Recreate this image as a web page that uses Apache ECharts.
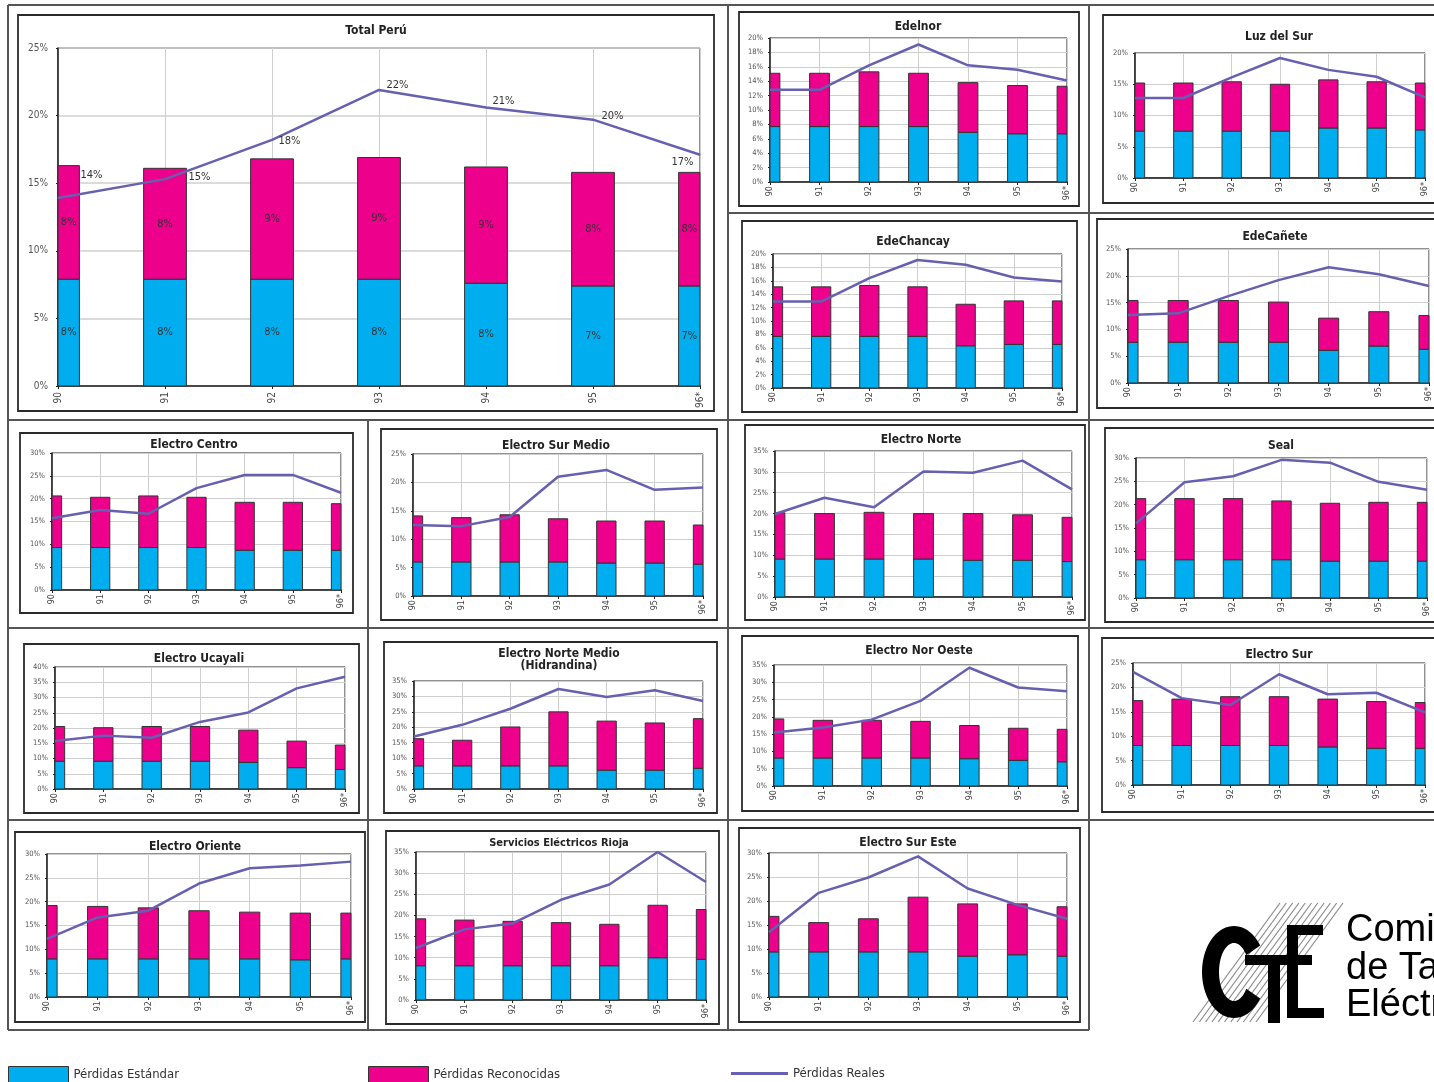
<!DOCTYPE html>
<html>
<head>
<meta charset="utf-8">
<script src="https://cdn.jsdelivr.net/npm/echarts@6/dist/echarts.min.js"></script>
<style>
html,body{margin:0;padding:0;background:#fff;overflow:hidden}
#c{width:1434px;height:1082px}
</style>
</head>
<body>
<div id="c"></div>
<script>
// ---------------- DATA ----------------
const years = ['90', '91', '92', '93', '94', '95', '96*'];
const seriesNames = ['Pérdidas Estándar', 'Pérdidas Reconocidas', 'Pérdidas Reales'];

const totalPeruEstandar    = [7.9, 7.9, 7.9, 7.9, 7.6, 7.4, 7.4];
const totalPeruReconocidas = [8.4, 8.2, 8.9, 9.0, 8.6, 8.4, 8.4];
const totalPeruReales      = [13.9, 15.3, 18.2, 21.9, 20.6, 19.7, 17.1];

const edelnorEstandar    = [7.7, 7.7, 7.7, 7.7, 6.9, 6.7, 6.7];
const edelnorReconocidas = [7.4, 7.4, 7.6, 7.4, 6.9, 6.7, 6.6];
const edelnorReales      = [12.8, 12.8, 16.2, 19.1, 16.2, 15.6, 14.1];

const luzDelSurEstandar    = [7.5, 7.5, 7.5, 7.5, 8.0, 8.0, 7.7];
const luzDelSurReconocidas = [7.7, 7.7, 7.9, 7.5, 7.7, 7.4, 7.5];
const luzDelSurReales      = [12.8, 12.8, 16.1, 19.2, 17.3, 16.2, 12.9];

const edeChancayEstandar    = [7.7, 7.7, 7.7, 7.7, 6.3, 6.5, 6.5];
const edeChancayReconocidas = [7.4, 7.4, 7.6, 7.4, 6.2, 6.5, 6.5];
const edeChancayReales      = [12.9, 12.9, 16.4, 19.1, 18.4, 16.5, 15.9];

const edeCaneteEstandar    = [7.6, 7.6, 7.6, 7.6, 6.1, 6.9, 6.3];
const edeCaneteReconocidas = [7.8, 7.8, 7.8, 7.5, 6.0, 6.4, 6.3];
const edeCaneteReales      = [12.7, 13.0, 16.2, 19.2, 21.6, 20.3, 18.1];

const electroCentroEstandar    = [9.3, 9.3, 9.3, 9.3, 8.7, 8.7, 8.7];
const electroCentroReconocidas = [11.3, 11.0, 11.3, 11.0, 10.5, 10.5, 10.2];
const electroCentroReales      = [15.7, 17.5, 16.7, 22.3, 25.2, 25.2, 21.3];

const electroSurMedioEstandar    = [6.0, 6.0, 6.0, 6.0, 5.8, 5.8, 5.6];
const electroSurMedioReconocidas = [8.1, 7.8, 8.3, 7.6, 7.4, 7.4, 6.9];
const electroSurMedioReales      = [12.5, 12.3, 13.9, 21.0, 22.2, 18.7, 19.1];

const electroNorteEstandar    = [9.1, 9.1, 9.1, 9.1, 8.8, 8.8, 8.5];
const electroNorteReconocidas = [11.1, 10.9, 11.2, 10.9, 11.2, 10.9, 10.6];
const electroNorteReales      = [19.9, 23.8, 21.5, 30.1, 29.8, 32.7, 25.8];

const sealEstandar    = [8.2, 8.2, 8.2, 8.2, 7.9, 7.9, 7.9];
const sealReconocidas = [13.1, 13.1, 13.1, 12.6, 12.4, 12.6, 12.6];
const sealReales      = [16.0, 24.8, 26.1, 29.6, 29.0, 24.9, 23.2];

const electroUcayaliEstandar    = [9.1, 9.1, 9.1, 9.1, 8.7, 7.0, 6.4];
const electroUcayaliReconocidas = [11.4, 11.0, 11.4, 11.4, 10.6, 8.7, 8.0];
const electroUcayaliReales      = [15.7, 17.5, 16.8, 22.0, 25.1, 33.0, 36.8];

const electroNorteMedioEstandar    = [7.5, 7.5, 7.5, 7.5, 6.1, 6.1, 6.7];
const electroNorteMedioReconocidas = [8.8, 8.3, 12.6, 17.5, 15.9, 15.3, 16.1];
const electroNorteMedioReales      = [17.0, 20.8, 26.0, 32.4, 29.8, 32.0, 28.5];

const electroNorOesteEstandar    = [8.1, 8.1, 8.1, 8.1, 7.9, 7.4, 7.0];
const electroNorOesteReconocidas = [11.3, 10.9, 10.9, 10.6, 9.6, 9.3, 9.4];
const electroNorOesteReales      = [15.5, 16.9, 19.2, 24.6, 34.2, 28.5, 27.4];

const electroSurEstandar    = [8.1, 8.1, 8.1, 8.1, 7.8, 7.5, 7.5];
const electroSurReconocidas = [9.2, 9.5, 10.0, 10.0, 9.8, 9.6, 9.4];
const electroSurReales      = [23.2, 17.8, 16.4, 22.7, 18.6, 18.9, 14.9];

const electroOrienteEstandar    = [8.0, 8.0, 8.0, 8.0, 8.0, 7.8, 8.0];
const electroOrienteReconocidas = [11.2, 11.0, 10.7, 10.1, 9.8, 9.8, 9.6];
const electroOrienteReales      = [12.2, 16.7, 18.1, 23.8, 27.0, 27.6, 28.4];

const riojaEstandar    = [8.1, 8.1, 8.1, 8.1, 8.1, 10.0, 9.6];
const riojaReconocidas = [11.1, 10.8, 10.5, 10.2, 9.8, 12.4, 11.8];
const riojaReales      = [12.3, 16.7, 18.1, 23.7, 27.3, 35.0, 27.9];

const electroSurEsteEstandar    = [9.4, 9.4, 9.4, 9.4, 8.5, 8.8, 8.5];
const electroSurEsteReconocidas = [7.4, 6.1, 6.9, 11.4, 10.9, 10.6, 10.3];
const electroSurEsteReales      = [13.5, 21.7, 24.9, 29.3, 22.6, 19.2, 16.3];

// ---------------- LAYOUT ----------------
// plot: [left, top, right, bottom]; box: [x1, y1, x2, y2]
const panels = [
  {title: 'Total Perú', est: totalPeruEstandar, rec: totalPeruReconocidas, real: totalPeruReales, max: 25, step: 5,
   plot: [58, 48, 700, 386], box: [18, 15, 714, 411], tx: 376, ty: 29, big: true},
  {title: 'Edelnor', est: edelnorEstandar, rec: edelnorReconocidas, real: edelnorReales, max: 20, step: 2,
   plot: [770, 38, 1067, 182], box: [739, 12, 1079, 206], tx: 918, ty: 25},
  {title: 'Luz del Sur', est: luzDelSurEstandar, rec: luzDelSurReconocidas, real: luzDelSurReales, max: 20, step: 5,
   plot: [1135, 53, 1425, 178], box: [1103, 15, 1444, 203], tx: 1279, ty: 35},
  {title: 'EdeChancay', est: edeChancayEstandar, rec: edeChancayReconocidas, real: edeChancayReales, max: 20, step: 2,
   plot: [773, 254, 1062, 388], box: [742, 221, 1077, 412], tx: 913, ty: 240},
  {title: 'EdeCañete', est: edeCaneteEstandar, rec: edeCaneteReconocidas, real: edeCaneteReales, max: 25, step: 5,
   plot: [1128, 249, 1429, 383], box: [1097, 219, 1444, 408], tx: 1275, ty: 235},
  {title: 'Electro Centro', est: electroCentroEstandar, rec: electroCentroReconocidas, real: electroCentroReales, max: 30, step: 5,
   plot: [52, 453, 341, 590], box: [20, 433, 353, 613], tx: 194, ty: 443},
  {title: 'Electro Sur Medio', est: electroSurMedioEstandar, rec: electroSurMedioReconocidas, real: electroSurMedioReales, max: 25, step: 5,
   plot: [413, 454, 703, 596], box: [381, 429, 717, 620], tx: 556, ty: 444},
  {title: 'Electro Norte', est: electroNorteEstandar, rec: electroNorteReconocidas, real: electroNorteReales, max: 35, step: 5,
   plot: [775, 451, 1072, 597], box: [745, 425, 1085, 620], tx: 921, ty: 438},
  {title: 'Seal', est: sealEstandar, rec: sealReconocidas, real: sealReales, max: 30, step: 5,
   plot: [1136, 458, 1427, 598], box: [1105, 428, 1444, 622], tx: 1281, ty: 444},
  {title: 'Electro Ucayali', est: electroUcayaliEstandar, rec: electroUcayaliReconocidas, real: electroUcayaliReales, max: 40, step: 5,
   plot: [55, 667, 345, 789], box: [24, 644, 359, 813], tx: 199, ty: 657},
  {title: 'Electro Norte Medio\n(Hidrandina)', est: electroNorteMedioEstandar, rec: electroNorteMedioReconocidas, real: electroNorteMedioReales, max: 35, step: 5,
   plot: [414, 681, 703, 789], box: [384, 642, 717, 813], tx: 559, ty: 658},
  {title: 'Electro Nor Oeste', est: electroNorOesteEstandar, rec: electroNorOesteReconocidas, real: electroNorOesteReales, max: 35, step: 5,
   plot: [774, 665, 1067, 786], box: [742, 636, 1078, 811], tx: 919, ty: 649},
  {title: 'Electro Sur', est: electroSurEstandar, rec: electroSurReconocidas, real: electroSurReales, max: 25, step: 5,
   plot: [1133, 663, 1425, 785], box: [1102, 638, 1444, 812], tx: 1279, ty: 653},
  {title: 'Electro Oriente', est: electroOrienteEstandar, rec: electroOrienteReconocidas, real: electroOrienteReales, max: 30, step: 5,
   plot: [47, 854, 351, 997], box: [15, 832, 365, 1022], tx: 195, ty: 845},
  {title: 'Servicios Eléctricos Rioja', est: riojaEstandar, rec: riojaReconocidas, real: riojaReales, max: 35, step: 5,
   plot: [416, 852, 706, 1000], box: [386, 831, 719, 1024], tx: 559, ty: 841, tsize: 11},
  {title: 'Electro Sur Este', est: electroSurEsteEstandar, rec: electroSurEsteReconocidas, real: electroSurEsteReales, max: 30, step: 5,
   plot: [769, 853, 1067, 997], box: [739, 828, 1080, 1022], tx: 908, ty: 841}
];

// label offsets (px) for the "Total Perú" line labels
const totalLabelOffsets = [[34, -22], [35, -2], [18, 2], [19, -4], [18, -6], [20, -3], [-17, 8]];

const FONT = "'Liberation Sans Narrow','DejaVu Sans Condensed','Liberation Sans',Arial,sans-serif";
const BLUE = '#00aeef', PINK = '#ec008c', LINE = '#6760b0', EDGE = '#333333', GRIDC = '#cfcfcf';
const BAR_RATIO = 0.4;

// stacked bar segment drawn through the axes' own scales, cut at the plot edges
function barRenderer(fillColor, withLabel) {
  return function (params, api) {
    const ci = api.value(0), lo = api.value(1), hi = api.value(2), v = api.value(3);
    const pLo = api.coord([ci, lo]), pHi = api.coord([ci, hi]);
    const bw = api.size([1, 0])[0] * BAR_RATIO;
    const cs = params.coordSys;
    const x1 = Math.max(pLo[0] - bw / 2, cs.x);
    const x2 = Math.min(pLo[0] + bw / 2, cs.x + cs.width);
    const el = {
      type: 'rect',
      shape: {x: x1, y: pHi[1], width: x2 - x1, height: pLo[1] - pHi[1]},
      style: {fill: fillColor, stroke: EDGE, lineWidth: 1}
    };
    if (withLabel) {
      el.textContent = {style: {text: Math.round(v) + '%', fill: '#333', font: '11px ' + FONT}};
      el.textConfig = {position: 'inside'};
    }
    return el;
  };
}

const grids = [], xAxes = [], yAxes = [], series = [], titles = [], graphics = [];

panels.forEach((p, i) => {
  const [l, t, r, b] = p.plot;
  grids.push({left: l, top: t, width: r - l, height: b - t, show: true, borderColor: '#222', borderWidth: 1, backgroundColor: 'transparent'});
  xAxes.push({
    type: 'category', gridIndex: i, data: years, boundaryGap: false,
    axisLine: {show: true, onZero: false, lineStyle: {color: '#222', width: 1.5}},
    axisTick: {show: true, length: 3, interval: 0, lineStyle: {color: '#222'}},
    axisLabel: {interval: 0, rotate: 90, fontSize: p.big ? 10 : 9, color: '#444', fontFamily: FONT, margin: p.big ? 6 : 4, hideOverlap: false},
    splitLine: {show: true, interval: 0, lineStyle: {color: GRIDC, width: 1}}
  });
  yAxes.push({
    type: 'value', gridIndex: i, min: 0, max: p.max, interval: p.step,
    axisLine: {show: true, lineStyle: {color: '#222', width: 1.5}},
    axisTick: {show: true, length: 2, lineStyle: {color: '#222'}},
    axisLabel: {formatter: '{value}%', fontSize: p.big ? 10 : 7.5, color: '#555', fontFamily: FONT, margin: p.big ? 10 : 7, showMinLabel: true, showMaxLabel: true},
    splitLine: {show: true, lineStyle: {color: GRIDC, width: p.big ? 1.5 : 1}}
  });
  const estRows = years.map((y, k) => [y, 0, p.est[k], p.est[k]]);
  const recRows = years.map((y, k) => [y, p.est[k], p.est[k] + p.rec[k], p.rec[k]]);
  series.push({
    name: seriesNames[0], type: 'custom', xAxisIndex: i, yAxisIndex: i, data: estRows,
    encode: {x: 0, y: [1, 2]}, renderItem: barRenderer(BLUE, !!p.big), z: 2,
    itemStyle: {color: BLUE, borderColor: EDGE, borderWidth: 1}, emphasis: {disabled: true}
  });
  series.push({
    name: seriesNames[1], type: 'custom', xAxisIndex: i, yAxisIndex: i, data: recRows,
    encode: {x: 0, y: [1, 2]}, renderItem: barRenderer(PINK, !!p.big), z: 2,
    itemStyle: {color: PINK, borderColor: EDGE, borderWidth: 1}, emphasis: {disabled: true}
  });
  const lineData = p.big
    ? p.real.map((v, k) => ({value: v, label: {position: totalLabelOffsets[k]}}))
    : p.real;
  series.push({
    name: seriesNames[2], type: 'line', xAxisIndex: i, yAxisIndex: i, data: lineData,
    symbol: 'circle', symbolSize: 1, showSymbol: !!p.big, z: 5,
    lineStyle: {color: LINE, width: 2.5}, itemStyle: {color: LINE},
    label: p.big ? {show: true, color: '#333', fontSize: 11, fontFamily: FONT, align: 'center', verticalAlign: 'middle',
      formatter: (d) => Math.round(d.value) + '%'} : {show: false},
    emphasis: {disabled: true}
  });
  const fs = p.tsize || 12;
  const lines = p.title.split('\n').length;
  titles.push({
    text: p.title, left: p.tx, top: p.ty - (lines * 12) / 2 + 2, textAlign: 'center', padding: 0,
    textStyle: {fontSize: fs, fontWeight: 'bold', color: '#222', fontFamily: FONT, lineHeight: 12}
  });
  const [bx1, by1, bx2, by2] = p.box;
  graphics.push({type: 'rect', z: -10, shape: {x: bx1, y: by1, width: bx2 - bx1, height: by2 - by1},
    style: {fill: '#fff', stroke: '#2a2a2a', lineWidth: 1.8}});
});

// cell frame lines
const frame = [
  [8, 5, 1440, 5], [8, 5, 8, 1030], [728, 5, 728, 1030], [1089, 5, 1089, 1030], [368, 420, 368, 1030],
  [728, 213, 1440, 213], [8, 420, 1440, 420], [8, 628, 1440, 628], [8, 820, 1440, 820], [8, 1030, 1089, 1030]
];
frame.forEach(f => graphics.push({type: 'line', z: -5, shape: {x1: f[0], y1: f[1], x2: f[2], y2: f[3]},
  style: {stroke: '#555', lineWidth: 2}}));

// logo: hatching
for (let k = 0; k < 11; k++) {
  const xb = 1193 + k * 6.3;
  graphics.push({type: 'line', z: 1, shape: {x1: xb, y1: 1022, x2: xb + 87, y2: 903}, style: {stroke: '#8a8a8a', lineWidth: 1.2}});
}
// C (polygon built from two ellipses)
const cPts = [];
const cx = 1234, cy = 972;
for (let a = 35; a <= 325; a += 5) {
  const r = a * Math.PI / 180;
  cPts.push([cx + 32 * Math.cos(r), cy - 46 * Math.sin(r)]);
}
for (let a = 325; a >= 35; a -= 5) {
  const r = a * Math.PI / 180;
  cPts.push([cx + 15 * Math.cos(r), cy - 29 * Math.sin(r)]);
}
graphics.push({type: 'polygon', z: 2, shape: {points: cPts}, style: {fill: '#000'}});
// T
graphics.push({type: 'rect', z: 2, shape: {x: 1268, y: 955, width: 12, height: 68}, style: {fill: '#000'}});
graphics.push({type: 'rect', z: 2, shape: {x: 1245, y: 955, width: 67, height: 10}, style: {fill: '#000'}});
// E
graphics.push({type: 'rect', z: 2, shape: {x: 1287, y: 925, width: 11, height: 93}, style: {fill: '#000'}});
graphics.push({type: 'rect', z: 2, shape: {x: 1287, y: 925, width: 36, height: 10}, style: {fill: '#000'}});
graphics.push({type: 'rect', z: 2, shape: {x: 1287, y: 1008, width: 37, height: 10}, style: {fill: '#000'}});
// logo text
['Comisión', 'de Tarifas', 'Eléctricas'].forEach((s, k) => graphics.push({
  type: 'text', z: 2, x: 1346, y: 931 + k * 37.5,
  style: {text: s, fill: '#000', font: "38px 'Liberation Sans', Arial, sans-serif", verticalAlign: 'middle'}
}));

const legendText = {fontSize: 13, color: '#333', fontFamily: FONT};
const legends = [
  {data: [{name: seriesNames[0], icon: 'rect'}], left: 8, top: 1066, itemWidth: 60, itemHeight: 16},
  {data: [{name: seriesNames[1], icon: 'rect'}], left: 368, top: 1066, itemWidth: 60, itemHeight: 16},
  {data: [{name: seriesNames[2], icon: 'rect'}], left: 731, top: 1067, itemWidth: 57, itemHeight: 3}
].map(lg => Object.assign({padding: 0, selectedMode: false, orient: 'horizontal', textStyle: legendText,
  itemStyle: {borderWidth: 1}}, lg));

const chart = echarts.init(document.getElementById('c'), null, {renderer: 'canvas', width: 1434, height: 1082});
chart.setOption({
  animation: false,
  backgroundColor: '#fff',
  title: titles,
  legend: legends,
  grid: grids,
  xAxis: xAxes,
  yAxis: yAxes,
  series: series,
  graphic: {elements: graphics},
  tooltip: {show: false}
});
</script>
</body>
</html>
